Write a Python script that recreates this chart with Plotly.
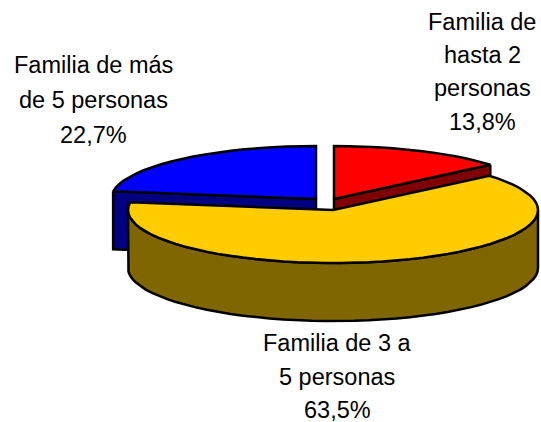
import numpy as np
import plotly.graph_objects as go

categories = ["Familia de hasta 2 personas", "Familia de 3 a 5 personas", "Familia de más de 5 personas"]
values = [13.8, 63.5, 22.7]
top_colors = ["#FF0000", "#FFCC00", "#0000FF"]
side_colors = ["#800000", "#806600", "#000080"]
centers = [(334, 199), (333, 210), (316, 199)]
label_lines = [
    (["Familia de", "hasta 2", "personas", "13,8%"], 482, [22, 55, 88, 122]),
    (["Familia de 3 a", "5 personas", "63,5%"], 337, [343, 377, 410]),
    (["Familia de más", "de 5 personas", "22,7%"], 93, [65, 100, 135]),
]
RX, RY, DEPTH = 205, 53, 58
FONT = "Liberation Sans, Arial, sans-serif"


def rim(cx, cy, a0, a1, dy=0):
    n = max(2, int(abs(a1 - a0) / 4) + 1)
    t = np.radians(np.linspace(a0, a1, n))
    return cx + RX * np.sin(t), cy - RY * np.cos(t) + dy


def poly(x, y, fill):
    return go.Scatter(x=np.round(x, 2).tolist(), y=np.round(y, 2).tolist(), mode="lines", fill="toself",
                      fillcolor=fill, line=dict(color="black", width=2.5, shape="linear"),
                      hoverinfo="skip", showlegend=False)


fig = go.Figure()
angles = np.cumsum([0] + values) * 3.6
# draw order: back slices first, the large front slice last
for i in [2, 0, 1]:
    cx, cy = centers[i]
    a0, a1 = angles[i], angles[i + 1]
    if i == 1:
        wx, wy = rim(cx, cy, 90, 270)
        bx, by = rim(cx, cy, 90, 270, DEPTH)
        fig.add_trace(poly(np.r_[wx, bx[::-1], wx[0]], np.r_[wy, by[::-1], wy[0]], side_colors[i]))
    else:
        # flat cut face running from the rim back to the centre
        edge = a0 if i == 2 else a1
        t = np.radians(edge)
        ex, ey = cx + RX * np.sin(t), cy - RY * np.cos(t)
        fig.add_trace(poly([ex, cx, cx, ex, ex], [ey, cy, cy + DEPTH, ey + DEPTH, ey], side_colors[i]))
    x, y = rim(cx, cy, a0, a1)
    fig.add_trace(poly(np.r_[cx, x, cx], np.r_[cy, y, cy], top_colors[i]))

for lines, lx, ys in label_lines:
    for text, ly in zip(lines, ys):
        fig.add_annotation(x=lx, y=ly, text=text, showarrow=False, xanchor="center", yanchor="middle",
                           font=dict(family=FONT, size=23.5, color="black"))

fig.update_layout(
    width=541, height=422, margin=dict(l=0, r=0, t=0, b=0),
    paper_bgcolor="white", plot_bgcolor="white", showlegend=False,
    xaxis=dict(range=[0, 541], visible=False, fixedrange=True),
    yaxis=dict(range=[422, 0], visible=False, fixedrange=True),
)
fig.write_html("out.html", config={"displayModeBar": False},
               post_script="document.documentElement.style.overflow='hidden';document.body.style.margin='0';")
